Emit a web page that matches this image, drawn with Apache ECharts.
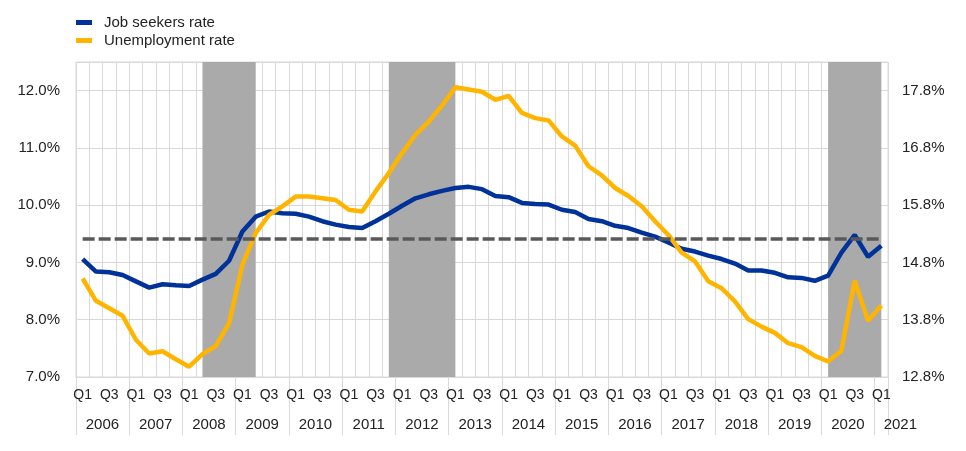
<!DOCTYPE html>
<html>
<head>
<meta charset="utf-8">
<script src="https://cdn.jsdelivr.net/npm/echarts@6/dist/echarts.min.js"></script>
<style>
  html, body { margin: 0; padding: 0; background: #fff; }
  #chart { width: 966px; height: 451px; }
</style>
</head>
<body>
<div id="chart"></div>
<script>
// quarters 2006Q1 .. 2021Q1
var years = [2006, 2007, 2008, 2009, 2010, 2011, 2012, 2013, 2014, 2015, 2016, 2017, 2018, 2019, 2020, 2021];
var quarters = [];
years.forEach(function (y) {
  for (var q = 1; q <= 4; q++) {
    if (y === 2021 && q > 1) break;
    quarters.push(y + "Q" + q);
  }
});

// right axis
var jobSeekers = [
  14.86, 14.64, 14.63, 14.58, 14.47, 14.36, 14.42, 14.40,
  14.39, 14.50, 14.60, 14.83, 15.34, 15.60, 15.69, 15.66,
  15.65, 15.60, 15.52, 15.46, 15.42, 15.40, 15.52, 15.65,
  15.79, 15.92, 15.99, 16.05, 16.10, 16.12, 16.08, 15.96,
  15.94, 15.84, 15.82, 15.81, 15.72, 15.68, 15.56, 15.52,
  15.44, 15.40, 15.32, 15.25, 15.15, 15.04, 14.99, 14.92,
  14.86, 14.78, 14.66, 14.66, 14.62, 14.54, 14.53, 14.48,
  14.57, 14.97, 15.28, 14.90, 15.09
];
// left axis
var unemployment = [
  8.72, 8.33, 8.20, 8.07, 7.65, 7.41, 7.45, 7.31,
  7.18, 7.40, 7.54, 7.94, 8.96, 9.51, 9.83, 9.98,
  10.15, 10.15, 10.12, 10.09, 9.92, 9.89, 10.24, 10.56,
  10.91, 11.23, 11.46, 11.74, 12.06, 12.02, 11.98, 11.84,
  11.91, 11.61, 11.52, 11.48, 11.20, 11.04, 10.68, 10.52,
  10.30, 10.16, 9.98, 9.72, 9.48, 9.17, 9.02, 8.67,
  8.55, 8.32, 8.01, 7.88, 7.77, 7.59, 7.52, 7.37,
  7.27, 7.46, 8.68, 7.98, 8.25
];
var jobSeekersAvg = 15.21;
var recessions = [["2008Q2", "2009Q2"], ["2011Q4", "2013Q1"], ["2020Q1", "2021Q1"]];
var leftTicks = [7, 8, 9, 10, 11, 12];
var rightTicks = [12.8, 13.8, 14.8, 15.8, 16.8, 17.8];

var font = "Liberation Sans, Arial, sans-serif";
var gridColor = "#d9d9d9";

var chart = echarts.init(document.getElementById("chart"));

var option = {
  animation: false,
  textStyle: { fontFamily: font },
  legend: {
    data: ["Job seekers rate", "Unemployment rate"],
    orient: "vertical",
    left: 71,
    top: 10,
    itemWidth: 16,
    itemHeight: 5,
    itemGap: 3,
    icon: "rect",
    textStyle: { fontSize: 15, color: "#222", fontFamily: font, padding: [0, 0, 0, 7] }
  },
  grid: {
    left: 76,
    right: 78,
    top: 62,
    bottom: 74,
    show: true,
    borderColor: gridColor,
    borderWidth: 1
  },
  xAxis: [
    {
      type: "category",
      data: quarters,
      boundaryGap: true,
      axisLine: { lineStyle: { color: gridColor, width: 1 } },
      axisTick: { show: false },
      splitLine: { show: true, interval: 0, lineStyle: { color: gridColor } },
      axisLabel: {
        interval: 1,
        margin: 11,
        fontSize: 14,
        color: "#222",
        fontFamily: font,
        formatter: function (v) { return v.slice(4); }
      }
    },
    {
      type: "category",
      data: quarters,
      position: "bottom",
      offset: 0,
      boundaryGap: true,
      axisLine: { show: false },
      axisTick: {
        show: true,
        length: 58,
        interval: function (i) { return i % 4 === 0; },
        lineStyle: { color: gridColor }
      },
      splitLine: { show: false },
      axisLabel: {
        interval: function (i) { return i % 4 === 1 || i === 60; },
        hideOverlap: false,
        margin: 40,
        fontSize: 15,
        color: "#222",
        fontFamily: font,
        formatter: function (v, i) {
          var y = v.slice(0, 4);
          return i === 60 ? "{e|" + y + "}" : "{m|" + y + "}";
        },
        rich: {
          m: { padding: [0, 0, 0, 13], fontSize: 15, color: "#222", fontFamily: font },
          e: { padding: [0, 0, 0, 38], fontSize: 15, color: "#222", fontFamily: font }
        }
      }
    }
  ],
  yAxis: [
    {
      type: "value",
      min: 7,
      max: 12.5,
      interval: 1,
      axisLine: { show: false },
      axisTick: { show: false },
      splitLine: { lineStyle: { color: gridColor } },
      axisLabel: {
        customValues: leftTicks,
        margin: 16,
        fontSize: 15,
        color: "#222",
        fontFamily: font,
        formatter: function (v) { return v.toFixed(1) + "%"; }
      }
    },
    {
      type: "value",
      min: 12.8,
      max: 18.3,
      axisLine: { show: false },
      axisTick: { show: false },
      splitLine: { show: false },
      axisLabel: {
        customValues: rightTicks,
        margin: 14,
        fontSize: 15,
        color: "#222",
        fontFamily: font,
        formatter: function (v) { return v.toFixed(1) + "%"; }
      }
    }
  ],
  series: [
    {
      name: "shading",
      type: "line",
      yAxisIndex: 1,
      data: [],
      z: 1,
      silent: true,
      markArea: {
        silent: true,
        itemStyle: { color: "#aaaaaa" },
        data: recessions.map(function (r) { return [{ xAxis: r[0] }, { xAxis: r[1] }]; })
      },
      markLine: {
        silent: true,
        symbol: "none",
        label: { show: false },
        lineStyle: { color: "#595959", width: 3.5, type: [12, 4] },
        data: [[
          { coord: [quarters[0], jobSeekersAvg] },
          { coord: [quarters[quarters.length - 1], jobSeekersAvg] }
        ]]
      }
    },
    {
      name: "Job seekers rate",
      type: "line",
      yAxisIndex: 1,
      data: jobSeekers,
      showSymbol: false,
      z: 3,
      lineStyle: { color: "#003299", width: 4.5 },
      itemStyle: { color: "#003299" }
    },
    {
      name: "Unemployment rate",
      type: "line",
      yAxisIndex: 0,
      data: unemployment,
      showSymbol: false,
      z: 4,
      lineStyle: { color: "#ffb400", width: 4.5 },
      itemStyle: { color: "#ffb400" }
    }
  ]
};

chart.setOption(option);
</script>
</body>
</html>
